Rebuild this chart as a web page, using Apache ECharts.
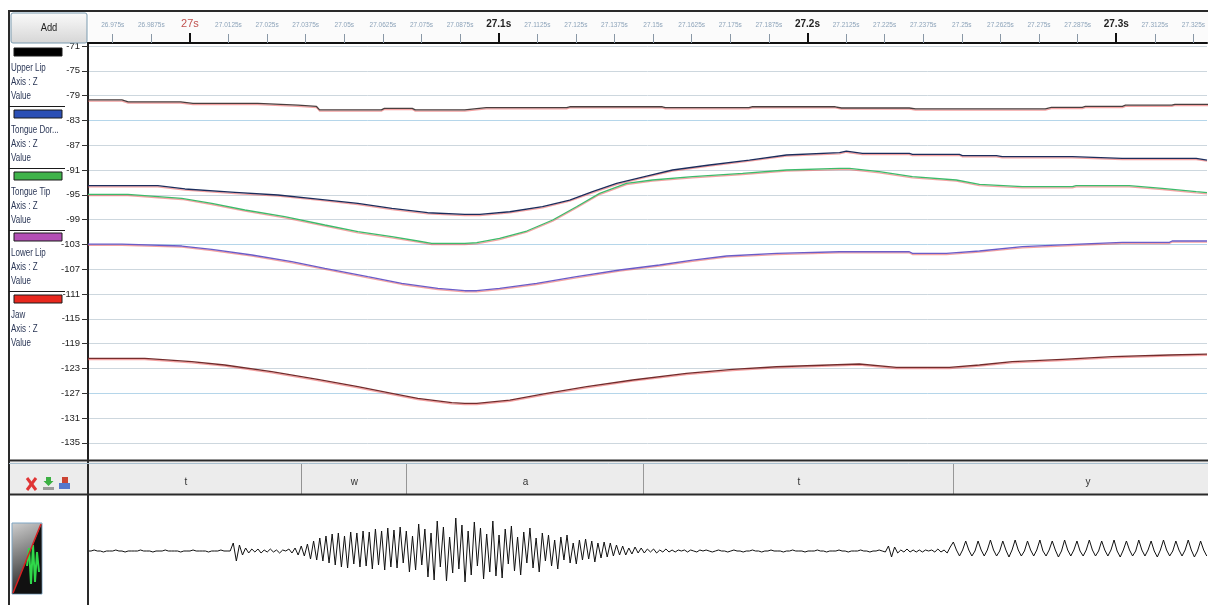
<!DOCTYPE html>
<html>
<head>
<meta charset="utf-8">
<script src="https://cdn.jsdelivr.net/npm/echarts@6/dist/echarts.min.js"></script>
<style>html,body{margin:0;padding:0;background:#fff;overflow:hidden}#c{width:1208px;height:605px}</style>
</head>
<body>
<div id="c"></div>
<script>
const FONT = "'Liberation Sans Narrow','Liberation Sans',sans-serif";

// ---------- data ----------
const seriesNames = ['Upper Lip', 'Tongue Dorsum', 'Tongue Tip', 'Lower Lip', 'Jaw'];
const legendLabels = ['Upper Lip', 'Tongue Dor...', 'Tongue Tip', 'Lower Lip', 'Jaw'];
const swatchColors = ['#000000', '#2b4fb5', '#3fb34a', '#b34fb5', '#e8281e'];
const lineColors = ['#4a3e3e', '#1c2d5c', '#3dbb6b', '#6a5cc8', '#742c2c'];

const timeTicks = [26.975, 26.9875, 27.0, 27.0125, 27.025, 27.0375, 27.05, 27.0625, 27.075, 27.0875,
  27.1, 27.1125, 27.125, 27.1375, 27.15, 27.1625, 27.175, 27.1875, 27.2, 27.2125, 27.225, 27.2375,
  27.25, 27.2625, 27.275, 27.2875, 27.3, 27.3125, 27.325];
const timeTickLabels = ['26.975s', '26.9875s', '27s', '27.0125s', '27.025s', '27.0375s', '27.05s', '27.0625s', '27.075s', '27.0875s',
  '27.1s', '27.1125s', '27.125s', '27.1375s', '27.15s', '27.1625s', '27.175s', '27.1875s', '27.2s', '27.2125s', '27.225s', '27.2375s',
  '27.25s', '27.2625s', '27.275s', '27.2875s', '27.3s', '27.3125s', '27.325s'];
const majorTicks = [27.0, 27.1, 27.2, 27.3];
const cursorTick = 27.0;
const yTicks = [-71, -75, -79, -83, -87, -91, -95, -99, -103, -107, -111, -115, -119, -123, -127, -131, -135];
const timeMin = 26.967, timeMax = 27.3294;
const valueMin = -137.61, valueMax = -70.516;

const upperLip = [[26.967,-79.7],[26.978,-79.7],[26.980,-80.0],[26.997,-80.0],[27.001,-80.25],[27.022,-80.25],[27.035,-80.55],[27.041,-80.75],[27.042,-81.3],[27.062,-81.3],[27.063,-81.05],[27.072,-81.05],[27.073,-81.3],[27.089,-81.3],[27.096,-80.95],[27.122,-80.95],[27.123,-80.8],[27.153,-80.8],[27.154,-80.95],[27.181,-80.95],[27.182,-80.8],[27.209,-80.8],[27.211,-81.0],[27.233,-81.0],[27.235,-81.15],[27.277,-81.15],[27.279,-80.9],[27.289,-80.9],[27.290,-80.75],[27.302,-80.75],[27.303,-80.55],[27.318,-80.55],[27.319,-80.4],[27.33,-80.4]];
const tongueDorsum = [[26.967,-93.53],[26.9896,-93.53],[26.9984,-94.06],[27.0146,-94.6],[27.0285,-95.03],[27.0414,-95.68],[27.0544,-96.37],[27.0654,-97.18],[27.077,-97.89],[27.089,-98.15],[27.0939,-98.15],[27.1036,-97.73],[27.1142,-96.92],[27.123,-95.84],[27.1304,-94.5],[27.1382,-93.15],[27.1479,-91.97],[27.1563,-91.0],[27.1683,-90.19],[27.1812,-89.39],[27.1932,-88.58],[27.2104,-88.21],[27.2126,-87.94],[27.2178,-88.31],[27.233,-88.31],[27.234,-88.47],[27.2492,-88.47],[27.2502,-88.69],[27.2612,-88.69],[27.2631,-88.85],[27.2858,-88.85],[27.3019,-89.11],[27.3259,-89.11],[27.3294,-89.39]];
const tongueTip = [[26.967,-94.92],[26.9799,-94.92],[26.9974,-95.56],[27.0071,-96.37],[27.0178,-97.45],[27.0307,-98.53],[27.0437,-99.87],[27.0544,-100.95],[27.0654,-101.76],[27.0738,-102.45],[27.0783,-102.82],[27.089,-102.82],[27.0929,-102.73],[27.1003,-102.02],[27.1091,-100.84],[27.1175,-99.06],[27.1252,-96.92],[27.1327,-94.76],[27.1414,-93.15],[27.1498,-92.61],[27.1628,-92.08],[27.179,-91.53],[27.1932,-91.0],[27.2104,-90.73],[27.2136,-90.73],[27.2233,-91.27],[27.234,-92.08],[27.2482,-92.61],[27.2557,-93.31],[27.2696,-93.69],[27.2858,-93.69],[27.287,-93.53],[27.3042,-93.53],[27.3149,-93.95],[27.3259,-94.5],[27.3294,-94.66]];
const lowerLip = [[26.967,-102.94],[26.978,-102.94],[26.9974,-103.26],[27.0071,-103.79],[27.0201,-104.71],[27.033,-105.79],[27.0437,-106.85],[27.0576,-108.21],[27.0686,-109.27],[27.0803,-110.08],[27.089,-110.47],[27.0929,-110.47],[27.1003,-110.08],[27.1123,-109.27],[27.1252,-108.21],[27.1392,-107.13],[27.1521,-106.32],[27.1628,-105.52],[27.1738,-104.87],[27.19,-104.44],[27.2104,-104.18],[27.233,-104.18],[27.234,-104.44],[27.245,-104.44],[27.2557,-104.06],[27.2696,-103.37],[27.288,-102.94],[27.3019,-102.66],[27.3172,-102.66],[27.3181,-102.45],[27.3294,-102.45]];
const jaw = [[26.967,-121.37],[26.9854,-121.37],[27.0006,-121.92],[27.0113,-122.45],[27.0265,-123.53],[27.0414,-124.76],[27.0544,-125.95],[27.0654,-127.02],[27.0738,-127.82],[27.0848,-128.53],[27.089,-128.63],[27.0929,-128.63],[27.1036,-128.1],[27.1155,-127.02],[27.1285,-125.95],[27.1434,-124.87],[27.1608,-123.79],[27.1757,-123.15],[27.19,-122.73],[27.2071,-122.45],[27.2168,-122.29],[27.2288,-122.82],[27.246,-122.82],[27.2557,-122.45],[27.2663,-121.92],[27.2825,-121.53],[27.2987,-121.11],[27.3172,-120.84],[27.3294,-120.68]];

// phone segments (annotation tier)
const segLabels = ['t', 'w', 'a', 't', 'y'];
const segStarts = [26.9612, 27.0362, 27.0702, 27.1469, 27.2472];
const segEnds   = [27.0362, 27.0702, 27.1469, 27.2472, 27.334];

// audio waveform: one amplitude sample per millisecond from waveStart
const waveStart = 26.967, waveStep = 0.001;
const waveAmp = [
  0,0,1,0,0,-1,0,0,0,1,
  0,0,-1,0,0,0,0,1,0,0,
  0,-1,0,0,0,1,0,0,0,0,
  -1,0,0,0,1,0,0,0,0,-1,
  0,0,0,1,0,0,0,8,-10,6,
  -4,3,-2,2,-1,2,-2,1,-1,2,
  -1,1,-2,1,0,2,-2,3,-4,5,
  -5,7,-8,10,-9,13,-10,15,-12,17,
  -14,18,-16,15,-17,19,-13,18,-16,20,
  -15,19,-18,22,-14,20,-19,23,-16,21,
  -17,24,-12,20,-21,15,-19,27,-14,22,
  -26,18,-29,30,-16,24,-30,14,-22,33,
  -18,26,-31,20,-24,29,-15,23,-28,17,
  -21,30,-25,16,-27,22,-13,25,-20,14,
  -24,19,-12,23,-17,13,-21,18,-10,16,
  -15,11,-18,14,-9,16,-12,8,-13,11,
  -9,12,-8,10,-11,8,-7,9,-6,8,
  -5,6,-4,5,-4,3,-3,4,-2,3,
  -2,2,-1,2,-2,1,-1,2,-1,1,
  -1,1,0,1,-1,1,0,-1,1,0,
  1,0,-1,0,1,0,0,-1,0,1,
  0,0,-1,0,0,1,0,0,-1,0,
  0,1,0,0,0,-1,0,0,1,0,
  0,0,-1,0,0,0,1,0,0,-1,
  0,0,0,1,0,0,-1,0,0,0,
  1,0,0,-1,0,0,1,0,-1,5,
  -6,4,-2,1,-1,2,-1,1,-1,1,
  -1,1,0,1,-1,2,-1,1,-2,4,
  9,1,-5,1,10,1,-5,0,10,1,
  -5,1,11,1,-5,0,10,1,-6,1,
  11,1,-5,0,10,1,-5,1,11,0,
  -5,1,10,1,-6,0,11,1,-5,1,
  10,0,-5,1,11,1,-5,0,10,1,
  -5,1,11,0,-6,1,10,1,-5,0,
  11,1,-5,1,10,0,-6,1,11,1,
  -5,0,10,1,-5,1,11,1,-6,0,
  10,1,-5
];

// ---------- build ----------
const curves = [upperLip, tongueDorsum, tongueTip, lowerLip, jaw];
const waveData = waveAmp.map((a, i) => [waveStart + i * waveStep, a]);
const segData = segStarts.map((s, i) => [s, segEnds[i], 0.5]);

const blueLines = [-79, -103, -123];
const gridColors = yTicks.slice().reverse().map(v => blueLines.includes(v) ? '#b5d6ea' : '#cdd7de');

function tickLabel(v) {
  const i = timeTicks.findIndex(t => Math.abs(t - v) < 1e-6);
  if (i < 0) return '';
  const s = timeTickLabels[i];
  if (Math.abs(v - cursorTick) < 1e-6) return '{cur|' + s + '}';
  if (majorTicks.some(t => Math.abs(t - v) < 1e-6)) return '{maj|' + s + '}';
  return '{min|' + s + '}';
}

const G = [];
function rect(x, y, w, h, style, z, r) { G.push({type: 'rect', shape: {x, y, width: w, height: h, r: r || 0}, style, z: z === undefined ? -1 : z, silent: true}); }
function line(x1, y1, x2, y2, stroke, w, z) { G.push({type: 'line', shape: {x1, y1, x2, y2}, style: {stroke, lineWidth: w || 1}, z: z === undefined ? 10 : z, silent: true}); }
function text(x, y, t, style, z, sx) { G.push({type: 'text', x, y, scaleX: sx || 1, style: Object.assign({text: t, font: '10px ' + FONT, fill: '#2a3656', align: 'left', verticalAlign: 'middle'}, style), z: z === undefined ? 10 : z, silent: true}); }

// header / ruler
rect(89, 12, 1119, 31, {fill: '#fbfbfb'}, -1);
rect(11, 13, 76, 30, {fill: {type: 'linear', x: 0, y: 0, x2: 0, y2: 1, colorStops: [{offset: 0, color: '#fafafa'}, {offset: 1, color: '#d6d6d6'}]}, stroke: '#7b9bb0', lineWidth: 1}, 5, 2);
text(49, 28, 'Add', {align: 'center', font: '11px ' + FONT, fill: '#222'}, 6, 0.85);
// frame
line(9, 11, 1208, 11, '#2a2a2a', 2);
line(9, 10, 9, 605, '#2a2a2a', 2);
line(88, 459, 88, 605, '#2a2a2a', 2);
// annotation tier
rect(9, 462, 1199, 32, {fill: '#ececec'}, -1);
line(9, 460.5, 1208, 460.5, '#2a2a2a', 2);
line(9, 463.5, 1208, 463.5, '#a9c0cf', 1);
line(9, 494.5, 1208, 494.5, '#2a2a2a', 2);
// tier icons
line(27, 478, 36, 490, '#e03535', 3); line(36, 478, 27, 490, '#e03535', 3);
G.push({type: 'polygon', shape: {points: [[46, 477], [51, 477], [51, 481], [53.5, 481], [48.5, 486], [43.5, 481], [46, 481]]}, style: {fill: '#3cb043'}, z: 10, silent: true});
rect(43, 487, 11, 3, {fill: '#9a9a9a'}, 10);
rect(59, 483, 11, 6, {fill: '#5577cc'}, 10);
rect(62, 477, 6, 6, {fill: '#cc4433'}, 11);
// waveform icon
rect(12, 523, 30, 71, {fill: {type: 'linear', x: 0, y: 0, x2: 1, y2: 1, colorStops: [{offset: 0, color: '#d0d0d0'}, {offset: 0.5, color: '#707070'}, {offset: 1, color: '#0c0c0c'}]}, stroke: '#7fa6c4', lineWidth: 1}, 10);
G.push({type: 'polygon', shape: {points: [[41.5, 524], [41.5, 593.5], [12.5, 593.5]]}, style: {fill: '#111'}, z: 11, silent: true});
G.push({type: 'polyline', shape: {points: [[27, 566], [29, 548], [31, 584], [33, 545], [35, 582], [37, 552], [39, 572]]}, style: {stroke: '#2fd84a', lineWidth: 2, fill: null}, z: 12, silent: true});
line(13, 593, 41, 524, '#d82020', 1.5, 13);

// legend panel
for (let i = 0; i < legendLabels.length; i++) {
  const top = 48 + Math.round(i * 61.8);
  rect(14, top, 48, 8, {fill: swatchColors[i], stroke: '#1a1a1a', lineWidth: 1}, 10);
  text(11, top + 20, legendLabels[i], {}, 10, 0.8);
  text(11, top + 34, 'Axis : Z', {}, 10, 0.8);
  text(11, top + 48, 'Value', {}, 10, 0.8);
  if (i < legendLabels.length - 1) line(9, top + 58.5, 65, top + 58.5, '#1a1a1a', 1);
}

const option = {
  animation: false,
  backgroundColor: '#ffffff',
  grid: [
    {left: 88, right: 0, top: 43, height: 416},
    {left: 88, right: 0, top: 464, height: 30},
    {left: 88, right: 0, top: 497, height: 108}
  ],
  xAxis: [
    {gridIndex: 0, type: 'value', position: 'top', min: timeMin, max: timeMax,
      axisLine: {show: true, onZero: false, lineStyle: {color: '#111', width: 2}},
      axisTick: {show: true, customValues: timeTicks, length: 9, lineStyle: {color: '#8a98a6', width: 1}},
      axisLabel: {show: true, customValues: timeTicks, margin: 14, formatter: tickLabel,
        rich: {
          min: {fontSize: 6.5, color: '#8ea4ba', fontFamily: FONT},
          maj: {fontSize: 10, fontWeight: 'bold', color: '#222', fontFamily: FONT},
          cur: {fontSize: 11, color: '#c0504d', fontFamily: FONT}
        }},
      splitLine: {show: false}},
    {gridIndex: 0, type: 'value', position: 'top', min: timeMin, max: timeMax,
      axisLine: {show: false},
      axisTick: {show: true, customValues: majorTicks, length: 10, lineStyle: {color: '#111', width: 2}},
      axisLabel: {show: false}, splitLine: {show: false}},
    {gridIndex: 1, type: 'value', min: timeMin, max: timeMax, show: false},
    {gridIndex: 2, type: 'value', min: timeMin, max: timeMax, show: false}
  ],
  yAxis: [
    {gridIndex: 0, type: 'value', min: valueMin, max: valueMax,
      axisLine: {show: true, onZero: false, lineStyle: {color: '#222', width: 2}},
      axisTick: {show: true, customValues: yTicks, length: 6, lineStyle: {color: '#333', width: 1}},
      axisLabel: {show: true, customValues: yTicks, margin: 8, fontSize: 9.5, color: '#222', fontFamily: FONT},
      splitLine: {show: true, lineStyle: {color: gridColors, width: 1}}},
    {gridIndex: 1, type: 'value', min: 0, max: 1, show: false},
    {gridIndex: 2, type: 'value', min: -54, max: 54, show: false}
  ],
  graphic: G,
  series: [
    ...curves.map((d, i) => ({
      type: 'line', name: seriesNames[i], xAxisIndex: 0, yAxisIndex: 0, data: d,
      symbol: 'none', showSymbol: false, silent: true, z: 3,
      lineStyle: {color: lineColors[i], width: 1.3, shadowColor: 'rgba(235,85,85,0.55)', shadowOffsetY: 1.2, shadowBlur: 0}
    })),
    {type: 'custom', xAxisIndex: 2, yAxisIndex: 1, data: segData, encode: {x: [0, 1], y: 2}, clip: true, silent: true,
      renderItem: function (params, api) {
        const p0 = api.coord([api.value(0), 1]);
        const p1 = api.coord([api.value(1), 0]);
        return {type: 'group', children: [
          {type: 'rect', shape: {x: p0[0], y: p0[1], width: p1[0] - p0[0], height: p1[1] - p0[1]}, style: {fill: '#ececec'}},
          {type: 'line', shape: {x1: p1[0], y1: p0[1], x2: p1[0], y2: p1[1]}, style: {stroke: '#4a4a4a', lineWidth: 1}},
          {type: 'text', x: (p0[0] + p1[0]) / 2, y: (p0[1] + p1[1]) / 2 + 3,
            style: {text: segLabels[params.dataIndex], align: 'center', verticalAlign: 'middle', font: '10px ' + FONT, fill: '#333'}}
        ]};
      }},
    {type: 'line', xAxisIndex: 3, yAxisIndex: 2, data: waveData, symbol: 'none', showSymbol: false, silent: true,
      sampling: null, lineStyle: {color: '#111', width: 1}}
  ]
};

const chart = echarts.init(document.getElementById('c'), null, {renderer: 'canvas'});
chart.setOption(option);
</script>
</body>
</html>
